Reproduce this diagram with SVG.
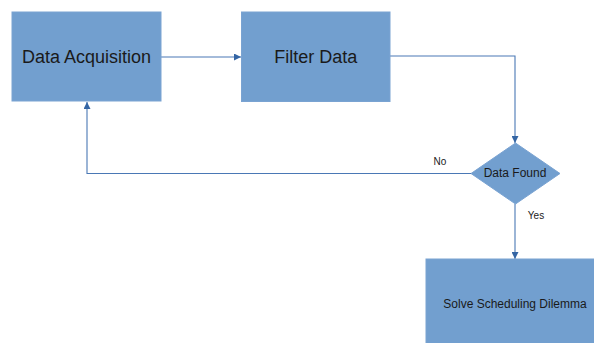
<svg xmlns="http://www.w3.org/2000/svg" width="594" height="343" viewBox="0 0 594 343">
  <style>
    .box { fill: #729fcf; stroke: #7aa3d2; stroke-width: 1; }
    .lbl { font-family: "Liberation Sans", Arial, sans-serif; fill: #1a1a1a; text-anchor: middle; }
    .edge { fill: none; stroke: #4a78b5; stroke-width: 1.1; }
    .note { font-family: "Liberation Sans", Arial, sans-serif; font-size: 10px; fill: #1a1a1a; }
  </style>
  <defs>
    <marker id="arrow" viewBox="0 0 10 10" refX="10" refY="5" markerWidth="7" markerHeight="7" markerUnits="userSpaceOnUse" orient="auto">
      <path d="M0,0 L10,5 L0,10 Z" fill="#3465a4"/>
    </marker>
  </defs>
  <rect width="594" height="343" fill="#ffffff"/>

  <g id="connectors">
    <path class="edge" d="M161,57 L241,57" marker-end="url(#arrow)"/>
    <path class="edge" d="M390,56 L515,56 L515,143" marker-end="url(#arrow)"/>
    <path class="edge" d="M471,173.5 L87,173.5 L87,102" marker-end="url(#arrow)"/>
    <path class="edge" d="M515,204 L515,259" marker-end="url(#arrow)"/>
    <text class="note" x="440" y="165" text-anchor="middle">No</text>
    <text class="note" x="536" y="219" text-anchor="middle">Yes</text>
  </g>

  <g id="data-acquisition">
    <rect class="box" x="12" y="12" width="149" height="89"/>
    <text class="lbl" x="86.5" y="63" font-size="18">Data Acquisition</text>
  </g>

  <g id="filter-data">
    <rect class="box" x="241.5" y="12" width="148.5" height="89.5"/>
    <text class="lbl" x="315.7" y="63" font-size="18">Filter Data</text>
  </g>

  <g id="data-found">
    <polygon class="box" points="515.5,143 560,173.5 515.5,204 471,173.5"/>
    <text class="lbl" x="515" y="177" font-size="12">Data Found</text>
  </g>

  <g id="solve-scheduling">
    <rect class="box" x="426" y="259" width="170" height="90"/>
    <text class="lbl" x="515" y="308" font-size="12">Solve Scheduling Dilemma</text>
  </g>
</svg>
